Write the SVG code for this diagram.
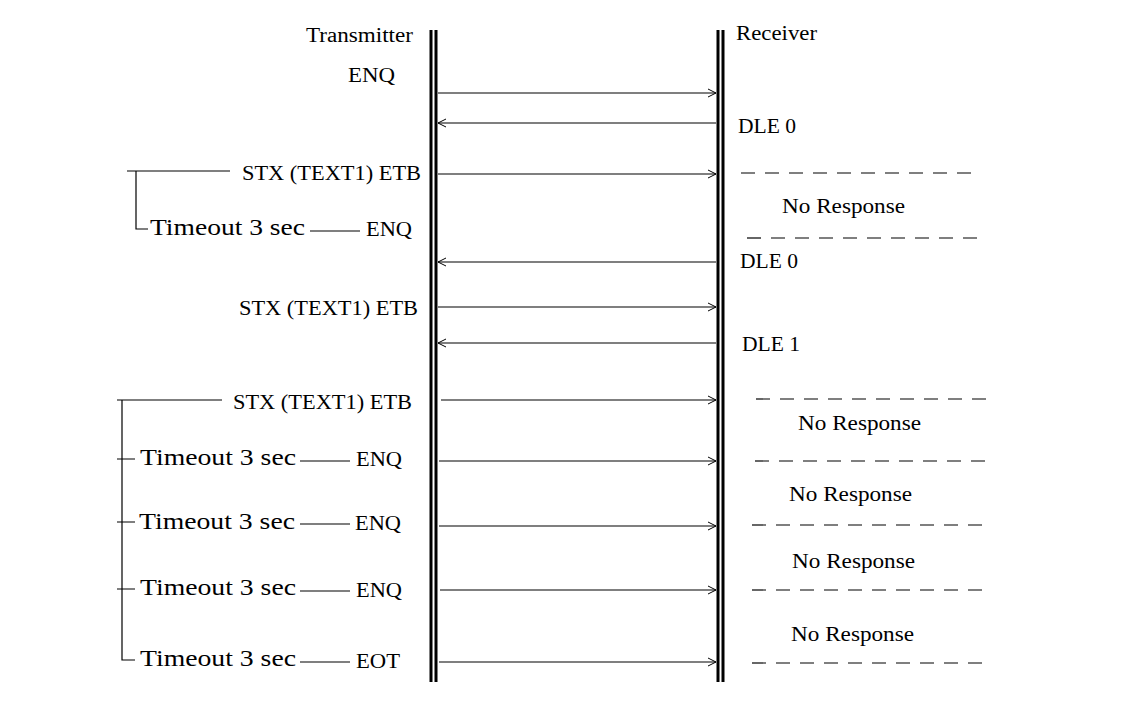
<svg xmlns="http://www.w3.org/2000/svg" width="1131" height="708" viewBox="0 0 1131 708">
<style>
text{font-family:"Liberation Serif","Times New Roman",serif;font-size:20px;fill:#000}
.t{font-size:23px}
.a{stroke:#000;stroke-width:1.2;fill:none}
.d{stroke:#000;stroke-width:1.2;stroke-dasharray:14,10;fill:none}
.b{stroke:#000;stroke-width:3;fill:none}
</style>
<defs>
<marker id="ah" markerWidth="10" markerHeight="10" refX="9" refY="5" orient="auto" markerUnits="userSpaceOnUse">
<path d="M1,1 L9,5 L1,9" fill="none" stroke="#000" stroke-width="1"/>
</marker>
</defs>
<g id="transmitter"><line class="b" x1="431" y1="30" x2="431" y2="682"/><line class="b" x1="436" y1="30" x2="436" y2="682"/>
<text x="306" y="42" textLength="107" lengthAdjust="spacingAndGlyphs">Transmitter</text></g>
<g id="receiver"><line class="b" x1="718" y1="30" x2="718" y2="682"/><line class="b" x1="723" y1="30" x2="723" y2="682"/>
<text x="736" y="40" textLength="81" lengthAdjust="spacingAndGlyphs">Receiver</text></g>
<g id="labels">
<text x="348" y="82" textLength="47" lengthAdjust="spacingAndGlyphs">ENQ</text>
<text x="738" y="133" textLength="58" lengthAdjust="spacingAndGlyphs">DLE 0</text>
<text x="242" y="180" textLength="179" lengthAdjust="spacingAndGlyphs">STX (TEXT1) ETB</text>
<text class="t" x="150" y="235" textLength="155" lengthAdjust="spacingAndGlyphs">Timeout  3 sec</text>
<text x="366" y="236" textLength="46" lengthAdjust="spacingAndGlyphs">ENQ</text>
<text x="782" y="213" textLength="123" lengthAdjust="spacingAndGlyphs">No Response</text>
<text x="740" y="268" textLength="58" lengthAdjust="spacingAndGlyphs">DLE 0</text>
<text x="239" y="315" textLength="179" lengthAdjust="spacingAndGlyphs">STX (TEXT1) ETB</text>
<text x="742" y="351" textLength="58" lengthAdjust="spacingAndGlyphs">DLE 1</text>
<text x="233" y="409" textLength="179" lengthAdjust="spacingAndGlyphs">STX (TEXT1) ETB</text>
<text x="798" y="430" textLength="123" lengthAdjust="spacingAndGlyphs">No Response</text>
<text class="t" x="140" y="465" textLength="156" lengthAdjust="spacingAndGlyphs">Timeout  3 sec</text>
<text x="356" y="466" textLength="46" lengthAdjust="spacingAndGlyphs">ENQ</text>
<text x="789" y="501" textLength="123" lengthAdjust="spacingAndGlyphs">No Response</text>
<text class="t" x="139" y="529" textLength="156" lengthAdjust="spacingAndGlyphs">Timeout  3 sec</text>
<text x="355" y="530" textLength="46" lengthAdjust="spacingAndGlyphs">ENQ</text>
<text x="792" y="568" textLength="123" lengthAdjust="spacingAndGlyphs">No Response</text>
<text class="t" x="140" y="595" textLength="156" lengthAdjust="spacingAndGlyphs">Timeout  3 sec</text>
<text x="356" y="597" textLength="46" lengthAdjust="spacingAndGlyphs">ENQ</text>
<text x="791" y="641" textLength="123" lengthAdjust="spacingAndGlyphs">No Response</text>
<text class="t" x="140" y="666" textLength="156" lengthAdjust="spacingAndGlyphs">Timeout  3 sec</text>
<text x="356" y="668" textLength="44" lengthAdjust="spacingAndGlyphs">EOT</text>
</g>
<g id="connectors">
<line class="a" x1="438" y1="93" x2="716" y2="93" marker-end="url(#ah)"/>
<line class="a" x1="716" y1="123" x2="438" y2="123" marker-end="url(#ah)"/>
<line class="a" x1="438" y1="174" x2="716" y2="174" marker-end="url(#ah)"/>
<line class="a" x1="716" y1="262" x2="438" y2="262" marker-end="url(#ah)"/>
<line class="a" x1="438" y1="307" x2="716" y2="307" marker-end="url(#ah)"/>
<line class="a" x1="716" y1="343" x2="438" y2="343" marker-end="url(#ah)"/>
<line class="a" x1="441" y1="400" x2="716" y2="400" marker-end="url(#ah)"/>
<line class="a" x1="439" y1="461" x2="716" y2="461" marker-end="url(#ah)"/>
<line class="a" x1="439" y1="526" x2="716" y2="526" marker-end="url(#ah)"/>
<line class="a" x1="440" y1="590" x2="716" y2="590" marker-end="url(#ah)"/>
<line class="a" x1="439" y1="662" x2="716" y2="662" marker-end="url(#ah)"/>
<line class="d" x1="741" y1="173" x2="980" y2="173"/>
<line class="d" x1="747" y1="238" x2="985" y2="238"/>
<line class="d" x1="756" y1="399" x2="995" y2="399"/>
<line class="d" x1="755" y1="461" x2="995" y2="461"/>
<line class="d" x1="752" y1="525" x2="992" y2="525"/>
<line class="d" x1="752" y1="590" x2="992" y2="590"/>
<line class="d" x1="752" y1="663" x2="992" y2="663"/>
<path class="a" d="M230,171 H136 V229 H148 M127,171 H136"/>
<line class="a" x1="310" y1="231" x2="360" y2="231"/>
<path class="a" d="M222,400 H122 V660 H135 M117,400 H122 M117,459 H135 M117,522 H135 M117,589 H135"/>
<line class="a" x1="300" y1="461" x2="350" y2="461"/>
<line class="a" x1="300" y1="524" x2="350" y2="524"/>
<line class="a" x1="300" y1="591" x2="350" y2="591"/>
<line class="a" x1="300" y1="662" x2="350" y2="662"/>
</g>
</svg>
